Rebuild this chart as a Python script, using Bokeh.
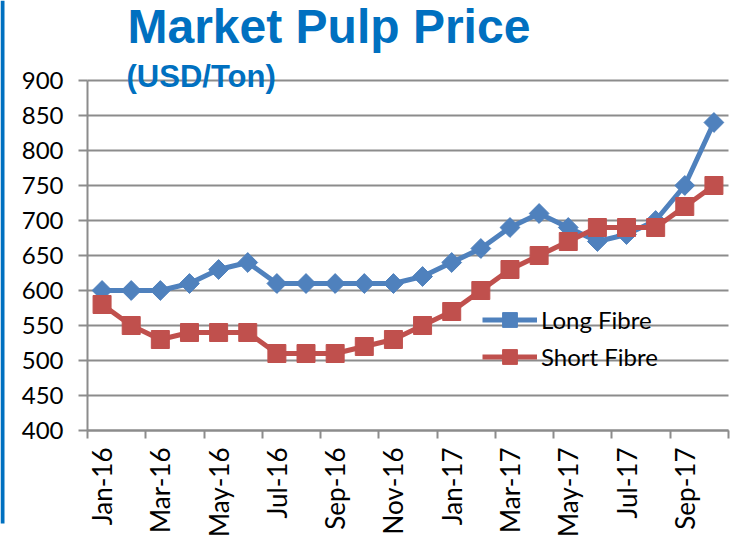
import numpy as np
from bokeh.plotting import figure
from bokeh.models import (FixedTicker, LinearAxis, Label, Legend, LegendItem,
                          BoxAnnotation, Range1d)
from bokeh.embed import file_html
from bokeh.resources import INLINE

months = ["Jan-16", "Feb-16", "Mar-16", "Apr-16", "May-16", "Jun-16",
          "Jul-16", "Aug-16", "Sep-16", "Oct-16", "Nov-16", "Dec-16",
          "Jan-17", "Feb-17", "Mar-17", "Apr-17", "May-17", "Jun-17",
          "Jul-17", "Aug-17", "Sep-17", "Oct-17"]
long_fibre = [600, 600, 600, 610, 630, 640, 610, 610, 610, 610, 610, 620,
              640, 660, 690, 710, 690, 670, 680, 700, 750, 840]
short_fibre = [580, 550, 530, 540, 540, 540, 510, 510, 510, 520, 530, 550,
               570, 600, 630, 650, 670, 690, 690, 690, 720, 750]
y_ticks = [400, 450, 500, 550, 600, 650, 700, 750, 800, 850, 900]

BLUE = "#4F81BD"
RED = "#C0504D"
GRID = "#8C8C8C"
TITLE = "#0070C0"
FONT = "Lato"

W, H = 733, 539
n = len(months)
x = np.arange(n)

# plot area in pixels (frame covers the whole canvas)
px_left, px_right, px_top, px_bottom = 87, 728, 80, 430
ymin, ymax = y_ticks[0], y_ticks[-1]
xs_per_px = n / (px_right - px_left)
ys_per_px = (ymax - ymin) / (px_bottom - px_top)
x_lo = -0.5 - px_left * xs_per_px
x_hi = -0.5 + (W - px_left) * xs_per_px
y_hi = ymax + px_top * ys_per_px
y_lo = ymax - (H - px_top) * ys_per_px

p = figure(width=W, height=H, output_backend="svg", toolbar_location=None,
           x_range=Range1d(x_lo, x_hi), y_range=Range1d(y_lo, y_hi),
           min_border=0)
p.outline_line_color = None
p.background_fill_color = "white"
p.border_fill_color = "white"

p.xgrid.grid_line_color = None
p.ygrid.grid_line_color = GRID
p.ygrid.grid_line_width = 2
p.ygrid.ticker = FixedTicker(ticks=y_ticks)
p.ygrid.cross_bounds = (-0.5, n - 0.5)

# y axis
yax = p.yaxis[0]
yax.fixed_location = -0.5
yax.bounds = (ymin, ymax)
yax.ticker = FixedTicker(ticks=y_ticks)
yax.axis_line_color = GRID
yax.axis_line_width = 2
yax.major_tick_line_color = GRID
yax.major_tick_line_width = 2
yax.major_tick_out = 9
yax.major_tick_in = 0
yax.minor_tick_line_color = None
yax.major_label_text_font = FONT
yax.major_label_text_font_size = "24px"
yax.major_label_text_color = "black"
yax.major_label_standoff = 15

# x axis: boundary tick marks only (labels not drawn)
xax = p.xaxis[0]
xax.fixed_location = ymin
xax.bounds = (-0.5, n - 0.5)
xax.ticker = FixedTicker(ticks=[i - 0.5 for i in range(0, n + 1, 2)])
xax.axis_line_color = GRID
xax.axis_line_width = 2
xax.major_tick_line_color = GRID
xax.major_tick_line_width = 2
xax.major_tick_out = 8
xax.major_tick_in = 0
xax.minor_tick_line_color = None
xax.major_label_text_color = None
xax.major_label_standoff = 0

# x axis: category labels every other month
lab_ticks = list(range(0, n, 2))
lax = LinearAxis(ticker=FixedTicker(ticks=lab_ticks),
                 major_label_overrides={i: months[i] for i in lab_ticks})
lax.fixed_location = ymin
lax.bounds = (-0.5, n - 0.5)
lax.axis_line_color = None
lax.major_tick_line_color = None
lax.major_tick_out = 8
lax.major_tick_in = 0
lax.minor_tick_line_color = None
lax.major_label_orientation = np.pi / 2
lax.major_label_text_font = FONT
lax.major_label_text_font_size = "26px"
lax.major_label_text_color = "black"
lax.major_label_standoff = 9
p.add_layout(lax, "below")

l1 = p.line(x, long_fibre, line_color=BLUE, line_width=5)
s1 = p.scatter(x, long_fibre, marker="square", angle=np.pi / 4, size=14,
               fill_color=BLUE, line_color=BLUE)
l2 = p.line(x, short_fibre, line_color=RED, line_width=5)
s2 = p.scatter(x, short_fibre, marker="square", size=18,
               fill_color=RED, line_color=RED)

legend = Legend(items=[LegendItem(label="Long Fibre", renderers=[l1, s1]),
                       LegendItem(label="Short Fibre", renderers=[l2, s2])],
                location=(482, 164), background_fill_alpha=0,
                border_line_color=None, padding=0, margin=0, spacing=0,
                glyph_width=55, glyph_height=37, label_height=37,
                label_standoff=4, label_text_font=FONT,
                label_text_font_size="24px", label_text_color="black")
p.add_layout(legend)

p.add_layout(Label(x=127, y=H - 26, x_units="screen", y_units="screen",
                   text="Market Pulp Price", text_font="Liberation Sans",
                   text_font_style="bold", text_font_size="48px",
                   text_baseline="alphabetic", text_color=TITLE))
p.add_layout(Label(x=126, y=H - 76, x_units="screen", y_units="screen",
                   text="(USD/Ton)", text_font="Liberation Sans",
                   text_font_style="bold", text_font_size="31px",
                   text_baseline="alphabetic", text_color=TITLE))
p.add_layout(BoxAnnotation(left=0, right=4, top=H, bottom=H - 523,
                           left_units="screen", right_units="screen",
                           top_units="screen", bottom_units="screen",
                           fill_color=TITLE, fill_alpha=1, line_color=None))

open("out.html", "w").write(file_html(p, INLINE))
